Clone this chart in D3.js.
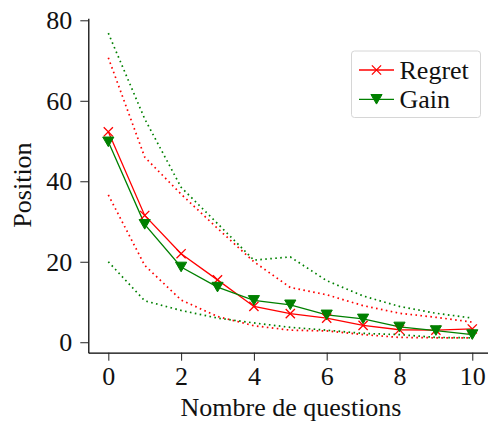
<!DOCTYPE html>
<html>
<head>
<meta charset="utf-8">
<script src="https://cdn.jsdelivr.net/npm/d3@7"></script>
<style>
  html, body { margin: 0; padding: 0; background: #fff; }
  svg { display: block; }
  text { font-family: 'Liberation Serif', 'DejaVu Serif', serif; fill: #111; }
</style>
</head>
<body>
<svg id="chart" width="488" height="426"></svg>
<script>
// ---- data ----
const questions = [0, 1, 2, 3, 4, 5, 6, 7, 8, 9, 10];
const regretMean  = [52.3, 31.5, 22.0, 15.5, 8.9, 7.1, 6.0, 4.2, 3.1, 3.0, 3.3];
const regretUpper = [70.7, 46.0, 36.8, 28.3, 20.0, 13.6, 11.8, 9.1, 7.2, 6.2, 5.0];
const regretLower = [36.6, 19.1, 10.5, 6.4, 4.1, 3.0, 2.8, 1.9, 1.2, 1.1, 1.1];
const gainMean    = [49.8, 29.3, 18.7, 13.7, 10.4, 9.3, 6.8, 5.8, 3.8, 2.9, 1.9];
const gainUpper   = [76.8, 55.5, 38.5, 29.5, 20.4, 21.2, 15.3, 11.5, 8.9, 7.2, 6.0];
const gainLower   = [20.0, 10.3, 7.9, 6.0, 4.8, 3.7, 3.0, 2.2, 1.9, 1.2, 1.1];
const xTicks = [0, 2, 4, 6, 8, 10];
const yTicks = [0, 20, 40, 60, 80];
const seriesNames = ["Regret", "Gain"];
const colors = { Regret: "#ff0000", Gain: "#008000" };

// ---- layout ----
const FONT = "'Liberation Serif', 'DejaVu Serif', serif";
const svg = d3.select("#chart");
const x = d3.scaleLinear().domain([-0.55, 10.55]).range([88.3, 492.3]);
const y = d3.scaleLinear().domain([-2.6, 80.5]).range([352.7, 18.3]);
const FS = 26;

// axes
const xAxis = d3.axisBottom(x).tickValues(xTicks).tickSize(8).tickPadding(6).tickSizeOuter(0);
const yAxis = d3.axisLeft(y).tickValues(yTicks).tickSize(8).tickPadding(8).tickSizeOuter(0);

const gx = svg.append("g").attr("transform", `translate(0,${y.range()[0]})`).call(xAxis);
const gy = svg.append("g").attr("transform", `translate(${x.range()[0]},0)`).call(yAxis);
[gx, gy].forEach(g => {
  g.attr("font-family", FONT);
  g.select(".domain").attr("stroke", "#000").attr("stroke-width", 1.25);
  g.selectAll(".tick line").attr("stroke", "#222").attr("stroke-width", 1);
  g.selectAll(".tick text").attr("font-family", FONT).attr("font-size", FS).attr("fill", "#111");
});

// axis labels
svg.append("text").attr("x", 291).attr("y", 416).attr("text-anchor", "middle")
  .attr("font-family", FONT).attr("font-size", FS).text("Nombre de questions");
svg.append("text").attr("transform", "translate(31,185) rotate(-90)").attr("text-anchor", "middle")
  .attr("font-family", FONT).attr("font-size", FS).text("Position");

// lines
const line = d3.line().x((d, i) => x(questions[i])).y(d => y(d));
const plotG = svg.append("g");

function dotted(vals, c) {
  plotG.append("path").attr("d", line(vals)).attr("fill", "none").attr("stroke", c)
    .attr("stroke-width", 1.7).attr("stroke-dasharray", "1.6,3.4");
}
function solid(vals, c) {
  plotG.append("path").attr("d", line(vals)).attr("fill", "none").attr("stroke", c)
    .attr("stroke-width", 1.3);
}

dotted(regretUpper, colors.Regret);
dotted(regretLower, colors.Regret);
dotted(gainUpper, colors.Gain);
dotted(gainLower, colors.Gain);
solid(regretMean, colors.Regret);
solid(gainMean, colors.Gain);

function crossMarker(g, cx, cy, c) {
  const r = 4.6;
  g.append("path").attr("d", `M${cx - r},${cy - r}L${cx + r},${cy + r}M${cx - r},${cy + r}L${cx + r},${cy - r}`)
    .attr("stroke", c).attr("stroke-width", 1.3).attr("fill", "none");
}
function triMarker(g, cx, cy, c) {
  const w = 5.6, h = 4.8;
  g.append("path").attr("d", `M${cx - w},${cy - h}L${cx + w},${cy - h}L${cx},${cy + h}Z`)
    .attr("fill", c).attr("stroke", c).attr("stroke-width", 1);
}

regretMean.forEach((v, i) => crossMarker(plotG, x(questions[i]), y(v), colors.Regret));
gainMean.forEach((v, i) => triMarker(plotG, x(questions[i]), y(v), colors.Gain));

// legend
const lg = svg.append("g");
lg.append("rect").attr("x", 351.5).attr("y", 51).attr("width", 129).attr("height", 66.5)
  .attr("rx", 3).attr("fill", "#fff").attr("fill-opacity", 0.8).attr("stroke", "#d6d6d6").attr("stroke-width", 1);
const rows = [70, 99.3];
seriesNames.forEach((name, i) => {
  const cy = rows[i];
  lg.append("line").attr("x1", 359).attr("x2", 394).attr("y1", cy).attr("y2", cy)
    .attr("stroke", colors[name]).attr("stroke-width", 1.3);
  if (name === "Regret") crossMarker(lg, 376.5, cy, colors[name]);
  else triMarker(lg, 376.5, cy, colors[name]);
  lg.append("text").attr("x", 399.5).attr("y", cy).attr("dy", "0.35em")
    .attr("font-family", FONT).attr("font-size", FS).text(name);
});
</script>
</body>
</html>
